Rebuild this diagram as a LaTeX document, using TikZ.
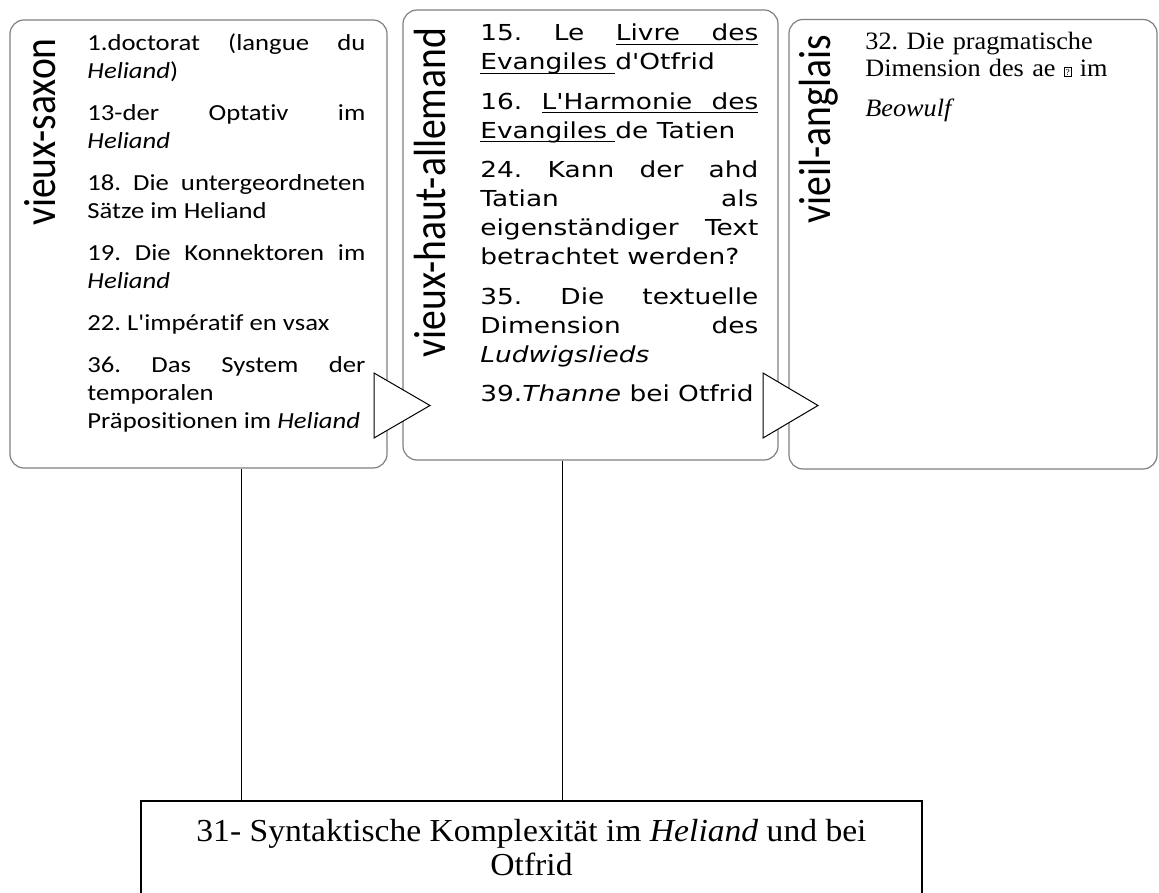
\documentclass[tikz,border=0pt]{standalone}
\usepackage{fontspec}
\usepackage{graphicx}
\setmainfont{Liberation Serif}
\newfontfamily\calibrifont[FakeStretch=1.16, Ligatures=NoCommon]{Carlito}
\newfontfamily\labelfont[Ligatures=NoCommon]{Carlito}
\newfontfamily\verdanafont[FakeStretch=1.2]{DejaVu Sans}
\newfontfamily\timesfont[FakeStretch=1.05]{Liberation Serif}
\newfontfamily\cambriafont[FakeStretch=1.05]{Liberation Serif}
\usetikzlibrary{positioning}
\definecolor{boxgray}{RGB}{128,128,128}
\newcommand{\missingglyph}{\raisebox{0.1ex}{\fboxsep=0.5pt\fboxrule=0.35pt\fbox{\fontsize{4.5}{5}\selectfont ?}}}
\newcommand{\vlabel}[1]{\scalebox{1}[1.14]{#1}}
\newcommand{\ulword}[1]{\sbox0{#1}\rlap{\rule[-2.1pt]{\wd0}{0.55pt}}\usebox0}
\newcommand{\ulspace}{\leaders\hrule height -1.55pt depth 2.1pt\hskip\fontdimen2\font plus\fontdimen3\font minus\fontdimen4\font}
\frenchspacing

\begin{document}
\begin{tikzpicture}[x=0.5pt, y=-0.5pt,
    branch/.style={draw=boxgray, line width=0.6pt, rounded corners=7pt, inner sep=0pt},
    langname/.style={rotate=90, anchor=base, inner sep=0pt, font=\labelfont\fontsize{19.8}{22}\selectfont},
    topics/.style={anchor=base west, inner sep=0pt, text width=139pt, align=justify,
      execute at begin node={\parindent=0pt\tolerance=9999\frenchspacing}},
    chevron/.style={draw, fill=white, line width=0.5pt, line join=miter},
    link/.style={draw, line width=0.5pt},
  ]
  \useasboundingbox (0,0) rectangle (1159,892);

  % the three branches
  \node[branch, minimum width=188.5pt, minimum height=224pt] (saxon) at (198.5,244) {};
  \node[branch, minimum width=187.5pt, minimum height=225pt] (ahd) at (590.5,235) {};
  \node[branch, minimum width=184pt, minimum height=224.75pt] (ae) at (973,244.25) {};

  \node[langname] (saxonname) at (55,132) {\vlabel{vieux-saxon}};
  \node[langname] (ahdname) at (445,192.5) {\vlabel{vieux-haut-allemand}};
  \node[langname] (aename) at (830,129) {\vlabel{vieil-anglais}};

  \node[topics, font=\calibrifont\fontsize{11.5}{14.17}\selectfont] (saxontopics) at (87,50.5) {%
    \setlength{\parskip}{6.67pt}%
    1.doctorat (langue du\linebreak \textit{Heliand})\par
    13-der Optativ im\linebreak \textit{Heliand}\par
    18. Die untergeordneten\linebreak Sätze im Heliand\par
    19. Die Konnektoren im\linebreak \textit{Heliand}\par
    22. L'impératif en vsax\par
    36. Das System der\linebreak temporalen\\ Präpositionen im \textit{Heliand}};

  \node[topics, font=\verdanafont\fontsize{11}{14.5}\selectfont] (ahdtopics) at (480,40.7) {%
    \setlength{\parskip}{5.25pt}%
    15. Le \ulword{Livre}\ulspace\ulword{des}\linebreak \ulword{Evangiles}\ulspace d'Otfrid\par
    16. \ulword{L'Harmonie}\ulspace\ulword{des}\linebreak \ulword{Evangiles}\ulspace de Tatien\par
    24. Kann der ahd\linebreak Tatian als\linebreak eigenständiger Text\linebreak betrachtet werden?\par
    35. Die textuelle\linebreak Dimension des\linebreak \textit{Ludwigslieds}\par
    39.\textit{Thanne} bei Otfrid};

  \node[topics, align=left, font=\timesfont\fontsize{12.5}{13.5}\selectfont] (aetopics) at (865,49.3) {%
    \setlength{\parskip}{6.5pt}%
    32. Die pragmatische\\ Dimension des ae \missingglyph{} im\par
    \textit{Beowulf}};

  % the common theme
  \node[draw, line width=1.25pt, minimum width=390.5pt, minimum height=47pt, align=center,
    font=\cambriafont\fontsize{16}{17}\selectfont] (theme) at (531.5,848)
    {31- Syntaktische Komplexität im \textit{Heliand} und bei\\ Otfrid};

  \draw[chevron] (374,373) -- (430,405.5) -- (374,438) -- cycle;
  \draw[chevron] (763,373) -- (818,405.5) -- (763,438) -- cycle;

  \coordinate (j1) at (241,0);
  \coordinate (j2) at (562,0);
  \draw[link] (saxon.south -| j1) -- (theme.north -| j1);
  \draw[link] (ahd.south -| j2) -- (theme.north -| j2);
\end{tikzpicture}
\end{document}
